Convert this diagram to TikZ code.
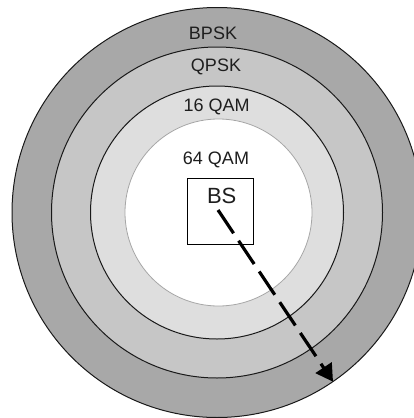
\documentclass[tikz,border=0pt]{standalone}
\usepackage{fontspec}
\setmainfont{Liberation Sans}
\usetikzlibrary{arrows.meta}
\definecolor{ringA}{RGB}{168,168,168}
\definecolor{ringB}{RGB}{198,198,198}
\definecolor{ringC}{RGB}{222,222,222}
\definecolor{txt}{RGB}{30,30,30}
\begin{document}
\begin{tikzpicture}[x=1pt,y=-1pt,
  ringline/.style={draw=black!90, line width=1pt},
  lbl/.style={font=\fontsize{18}{21}\selectfont, text=txt, inner sep=0pt, anchor=base},
  bslbl/.style={font=\fontsize{22}{26}\selectfont, text=txt, inner sep=0pt, anchor=base},
  bsbox/.style={draw=black, line width=0.9pt, fill=white, minimum size=66pt, inner sep=0pt},
  arrowline/.style={line width=3.2pt, dash pattern=on 28pt off 9pt, -{Triangle[length=17pt,width=19pt]}}]
\useasboundingbox (0,0) rectangle (414,418);
\clip (0,0) rectangle (414,418);
\fill[white] (0,0) rectangle (414,418);
\coordinate (c) at (217,212.5);
\draw[ringline, fill=ringA] (c) circle[radius=205pt];
\draw[ringline, fill=ringB] (c) circle[radius=165.5pt];
\draw[ringline, fill=ringC] (c) circle[radius=126.5pt];
\draw[draw=black!35, line width=0.8pt, fill=white] (218.5,212.5) circle[radius=93.5pt];
\node[lbl] (bpsk) at (213,39) {BPSK};
\node[lbl] (qpsk) at (216,71.7) {QPSK};
\node[lbl] (qam16) at (216.7,111.7) {16 QAM};
\node[lbl] (qam64) at (216,164) {64 QAM};
\node[bsbox] (bs) at (220,211) {};
\node[bslbl] (bslabel) at (221.7,203) {BS};
\coordinate (tip) at (333,381.7);
\draw[arrowline] ([shift={(-2pt,1pt)}]bs.center) -- (tip);
\end{tikzpicture}
\end{document}
